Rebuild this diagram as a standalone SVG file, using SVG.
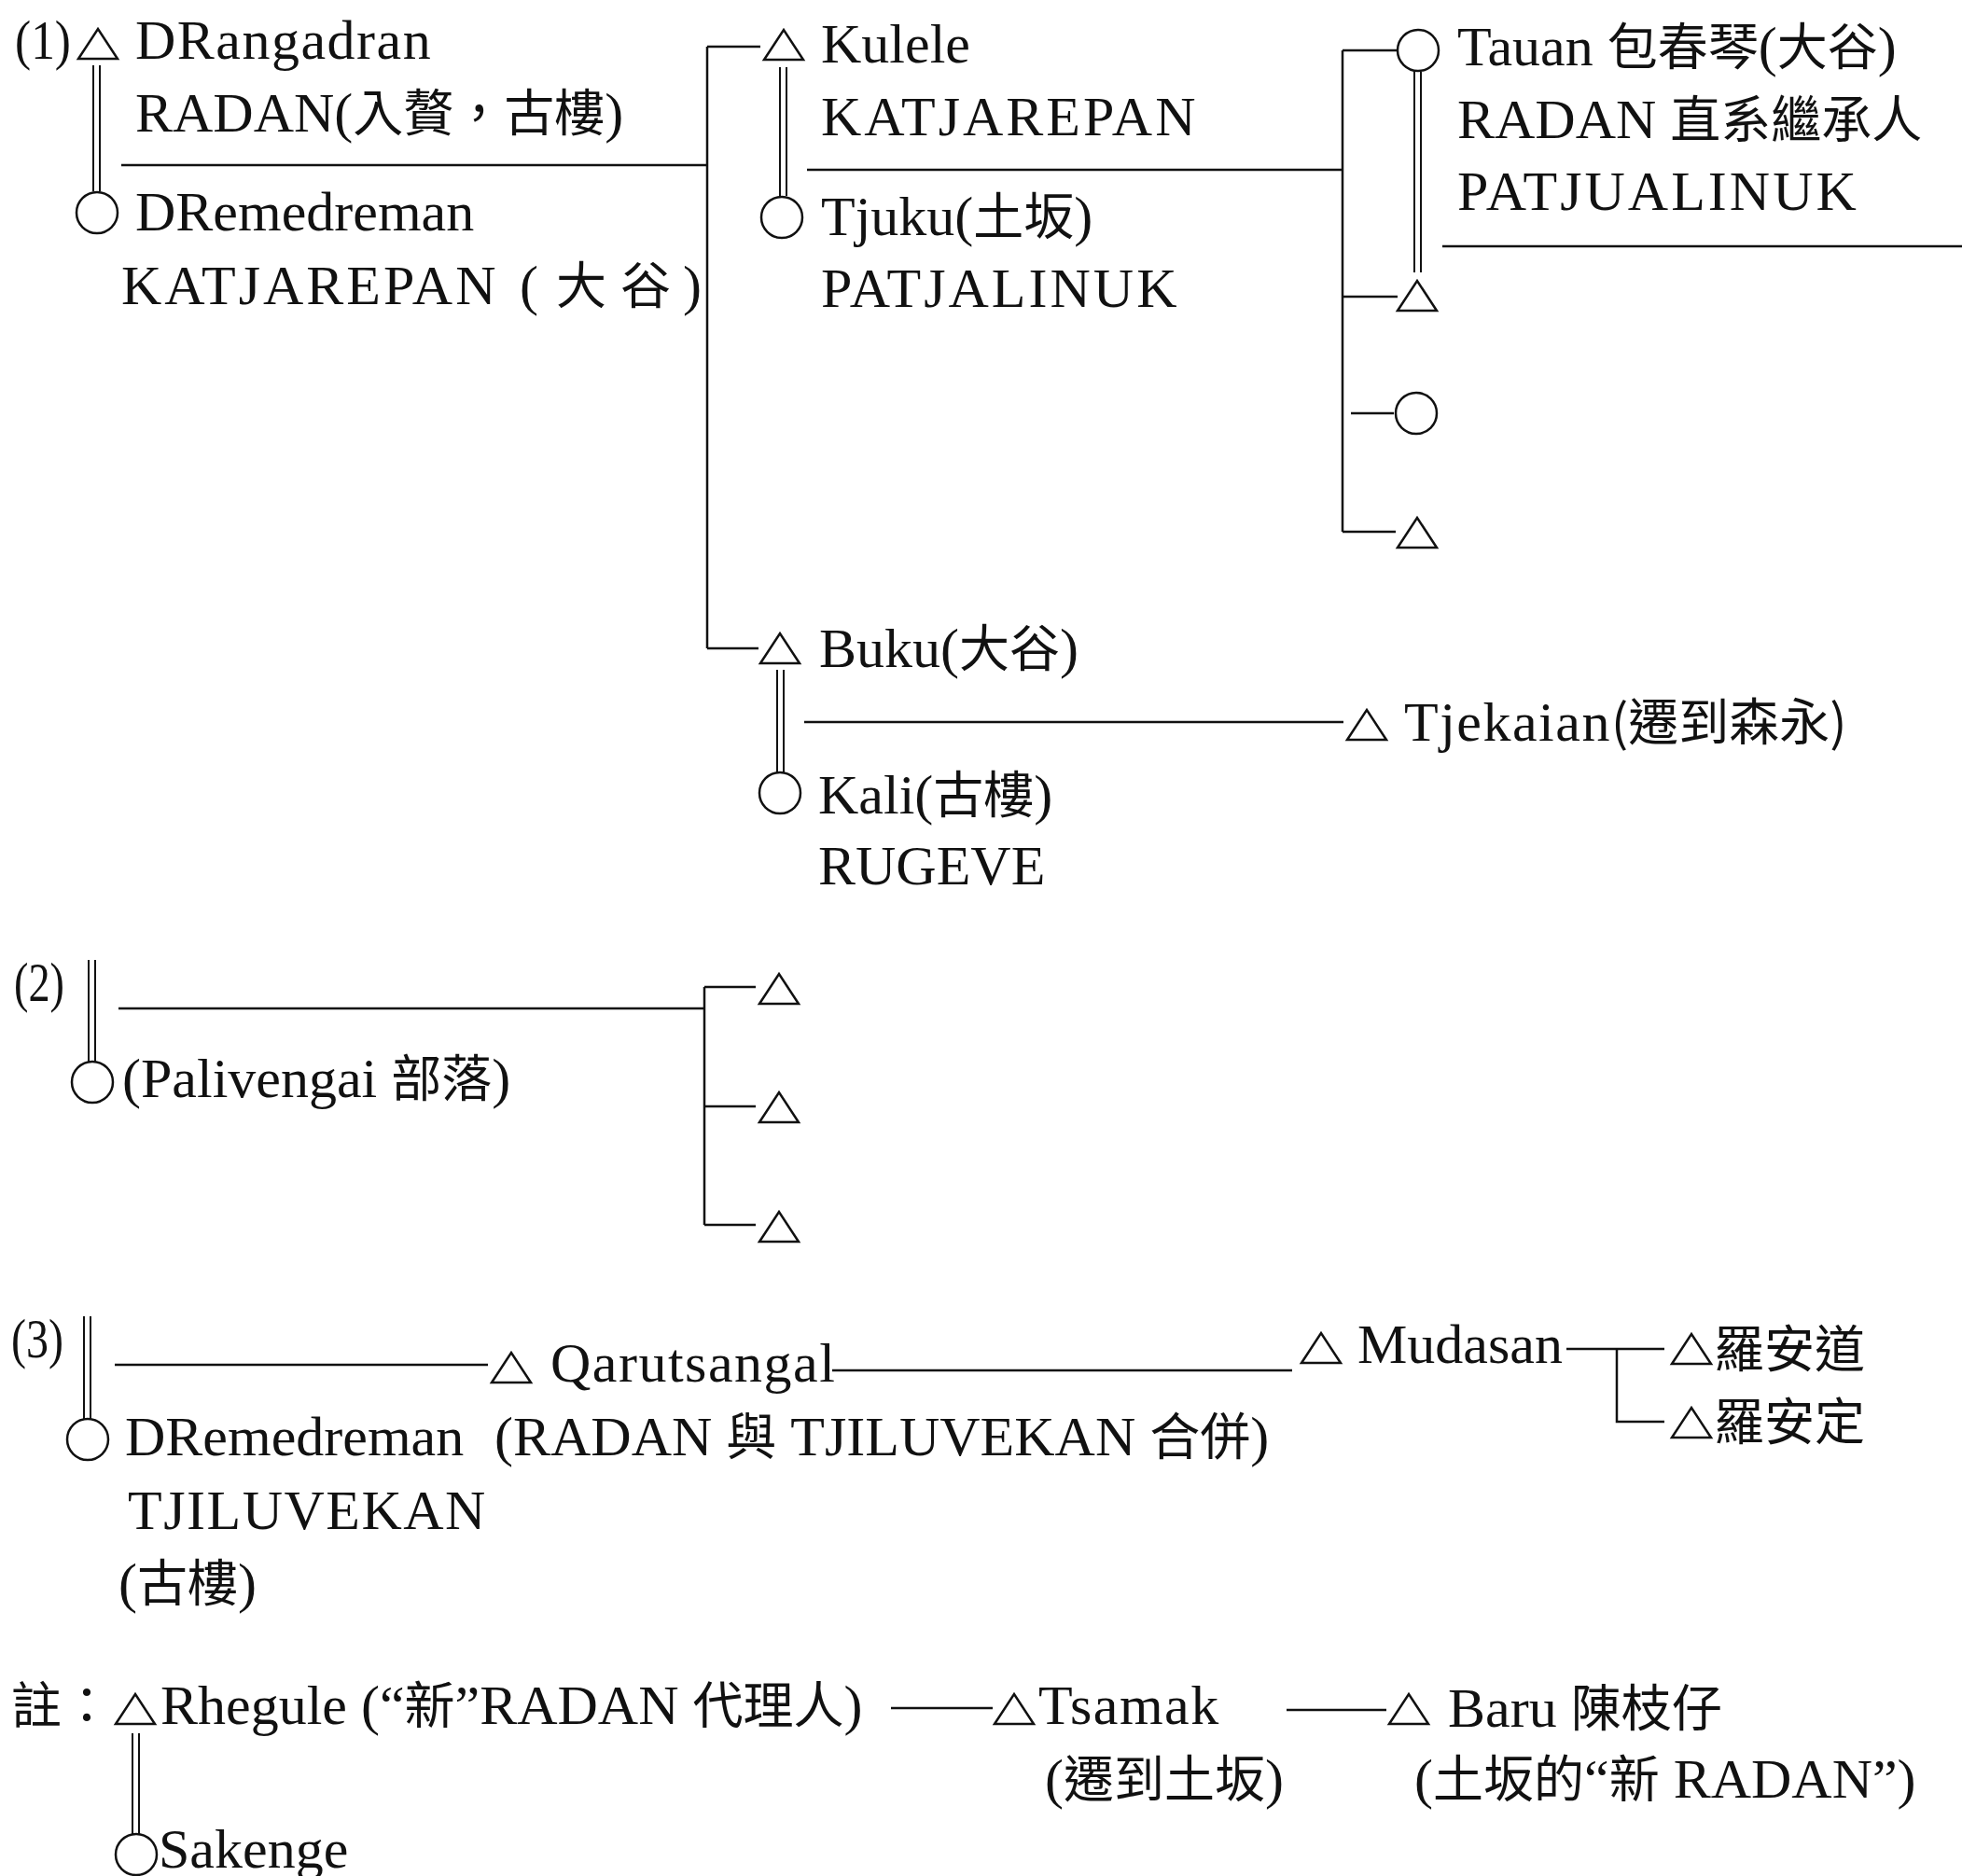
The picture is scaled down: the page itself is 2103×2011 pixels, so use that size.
<svg xmlns="http://www.w3.org/2000/svg" xmlns:xlink="http://www.w3.org/1999/xlink" width="2103" height="2011" viewBox="0 0 2103 2011">
<style>
text{font-family:"Liberation Serif","Noto Sans CJK TC",serif;font-size:60px;fill:#111}
.c{font-family:"Noto Sans CJK TC","Noto Sans CJK SC",sans-serif;font-size:54px;letter-spacing:0}
.w{letter-spacing:3px}
.m{letter-spacing:1.5px}
.sym{fill:none;stroke:#111;stroke-width:2.5}
.ln{fill:none;stroke:#111;stroke-width:2.5}
.dbl{fill:none;stroke:#111;stroke-width:2}
</style>
<defs>
<path id="tri" class="sym" d="M0,0 L42,0 L21,-32 Z"/>
</defs>
<rect width="2103" height="2011" fill="#fff"/>

<g id="connectors">
<!-- section 1 -->
<path class="dbl" d="M100,70 V205 M107,70 V205"/>
<path class="ln" d="M130,177 H758 M758,50 V695 M758,50 H815 M758,695 H813"/>
<path class="dbl" d="M836,72 V210 M843,72 V210"/>
<path class="ln" d="M865,182 H1439 M1439,54 V570 M1439,54 H1498 M1439,318 H1498 M1448,443 H1494 M1439,570 H1496"/>
<path class="dbl" d="M1516,77 V292 M1523,77 V292"/>
<path class="ln" d="M1546,264 H2103"/>
<path class="dbl" d="M833,718 V828 M840,718 V828"/>
<path class="ln" d="M862,774 H1440"/>
<!-- section 2 -->
<path class="dbl" d="M95,1029 V1138 M102,1029 V1138"/>
<path class="ln" d="M127,1081 H755 M755,1058 V1313 M755,1058 H810 M755,1186 H810 M755,1313 H810"/>
<!-- section 3 -->
<path class="dbl" d="M90,1411 V1521 M97,1411 V1521"/>
<path class="ln" d="M123,1463 H523 M892,1469 H1385 M1679,1446 H1784 M1733,1446 V1524 H1784"/>
<!-- note -->
<path class="ln" d="M955,1831 H1064 M1379,1833 H1486"/>
<path class="dbl" d="M142,1858 V1966 M149,1858 V1966"/>
</g>

<g id="label-1"><text x="16" y="63" textLength="60" lengthAdjust="spacingAndGlyphs">(1)</text></g>
<g id="n-DRangadran">
<use xlink:href="#tri" x="84" y="63"/>
<text class="m" x="145" y="63">DRangadran</text>
<text x="145" y="141">RADAN(<tspan class="c">入贅，古樓</tspan>)</text>
</g>
<g id="n-DRemedreman1">
<circle class="sym" cx="104" cy="228" r="22"/>
<text x="145" y="247">DRemedreman</text>
<text class="w" x="130" y="326">KATJAREPAN</text>
<text x="557" y="326">(</text>
<text class="c" x="596" y="326">大</text>
<text class="c" x="665" y="326">谷</text>
<text x="732" y="326">)</text>
</g>
<g id="n-Kulele">
<use xlink:href="#tri" x="819" y="64"/>
<text x="880" y="67">Kulele</text>
<text class="w" x="880" y="145">KATJAREPAN</text>
</g>
<g id="n-Tjuku">
<circle class="sym" cx="838" cy="233" r="22"/>
<text x="880" y="252">Tjuku(<tspan class="c">土坂</tspan>)</text>
<text class="w" x="880" y="329">PATJALINUK</text>
</g>
<g id="n-Tauan">
<circle class="sym" cx="1520" cy="54" r="22"/>
<text x="1562" y="70">Tauan <tspan class="c">包春琴</tspan>(<tspan class="c">大谷</tspan>)</text>
<text x="1562" y="148">RADAN <tspan class="c">直系繼承人</tspan></text>
<text class="w" x="1562" y="225">PATJUALINUK</text>
</g>
<g id="n-child1a"><use xlink:href="#tri" x="1498" y="333"/></g>
<g id="n-child1b"><circle class="sym" cx="1518" cy="443" r="22"/></g>
<g id="n-child1c"><use xlink:href="#tri" x="1498" y="587"/></g>
<g id="n-Buku">
<use xlink:href="#tri" x="815" y="711"/>
<text x="878" y="715">Buku(<tspan class="c">大谷</tspan>)</text>
</g>
<g id="n-Kali">
<circle class="sym" cx="836" cy="850" r="22"/>
<text x="877" y="872">Kali(<tspan class="c">古樓</tspan>)</text>
<text x="877" y="948">RUGEVE</text>
</g>
<g id="n-Tjekaian">
<use xlink:href="#tri" x="1444" y="793"/>
<text class="m" x="1505" y="794">Tjekaian<tspan class="c">(遷到森永)</tspan></text>
</g>

<g id="label-2"><text x="15" y="1073" textLength="54" lengthAdjust="spacingAndGlyphs">(2)</text></g>
<g id="n-Palivengai">
<circle class="sym" cx="99" cy="1160" r="22"/>
<text x="131" y="1176">(Palivengai <tspan class="c">部落</tspan>)</text>
</g>
<g id="n-child2a"><use xlink:href="#tri" x="814" y="1076"/></g>
<g id="n-child2b"><use xlink:href="#tri" x="814" y="1203"/></g>
<g id="n-child2c"><use xlink:href="#tri" x="814" y="1331"/></g>

<g id="label-3"><text x="12" y="1455" textLength="56" lengthAdjust="spacingAndGlyphs">(3)</text></g>
<g id="n-DRemedreman3">
<circle class="sym" cx="94" cy="1543" r="22"/>
<text x="134" y="1560">DRemedreman</text>
<text x="530" y="1560">(RADAN <tspan class="c">與</tspan> TJILUVEKAN <tspan class="c">合併</tspan>)</text>
<text class="m" x="137" y="1639">TJILUVEKAN</text>
<text x="127" y="1717">(<tspan class="c">古樓</tspan>)</text>
</g>
<g id="n-Qarutsangal">
<use xlink:href="#tri" x="527" y="1482"/>
<text class="m" x="590" y="1481">Qarutsangal</text>
</g>
<g id="n-Mudasan">
<use xlink:href="#tri" x="1395" y="1461"/>
<text x="1455" y="1461">Mudasan</text>
</g>
<g id="n-LuoAndao">
<use xlink:href="#tri" x="1792" y="1462"/>
<text class="c" x="1837" y="1466">羅安道</text>
</g>
<g id="n-LuoAnding">
<use xlink:href="#tri" x="1792" y="1541"/>
<text class="c" x="1837" y="1544">羅安定</text>
</g>

<g id="note-label"><text class="c" x="12" y="1848">註：</text></g>
<g id="n-Rhegule">
<use xlink:href="#tri" x="124" y="1848"/>
<text x="172" y="1848">Rhegule (“<tspan class="c">新</tspan>”RADAN <tspan class="c">代理人</tspan>)</text>
</g>
<g id="n-Tsamak">
<use xlink:href="#tri" x="1066" y="1848"/>
<text class="m" x="1113" y="1848">Tsamak</text>
<text x="1120" y="1927">(<tspan class="c">遷到土坂</tspan>)</text>
</g>
<g id="n-Baru">
<use xlink:href="#tri" x="1489" y="1848"/>
<text x="1552" y="1851">Baru <tspan class="c">陳枝仔</tspan></text>
<text x="1516" y="1927">(<tspan class="c">土坂的</tspan>“<tspan class="c">新</tspan> RADAN”)</text>
</g>
<g id="n-Sakenge">
<circle class="sym" cx="146" cy="1988" r="22"/>
<text x="170" y="2002">Sakenge</text>
</g>
</svg>
